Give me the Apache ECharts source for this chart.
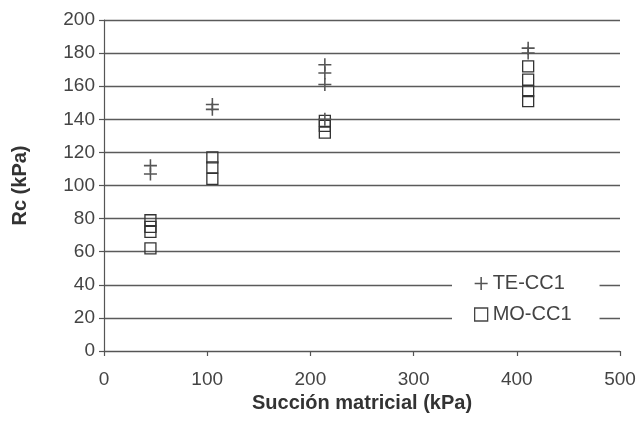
<!DOCTYPE html>
<html><head><meta charset="utf-8">
<script src="https://cdn.jsdelivr.net/npm/echarts@6/dist/echarts.min.js"></script>
<style>html,body{margin:0;padding:0;background:#fff}#c{width:642px;height:436px}</style>
</head><body><div id="c"></div>
<script>
const teX = [45, 45, 105, 105, 214, 214, 214, 214, 411, 411];
const teY = [112, 107, 149, 146, 173, 168, 161, 140, 183, 180];
const moX = [45, 45, 45, 45, 105, 105, 105, 214, 214, 214, 411, 411, 411, 411];
const moY = [79, 75, 72, 62, 117, 111, 104, 139, 136, 132, 172, 164, 157, 151];
const xTicks = [0, 100, 200, 300, 400, 500];
const yTicks = [0, 20, 40, 60, 80, 100, 120, 140, 160, 180, 200];
const seriesNames = ['TE-CC1', 'MO-CC1'];

const plusPath = 'path://M4.4,0H5.6V4.4H10V5.6H5.6V10H4.4V5.6H0V4.4H4.4Z';
const font = 'Liberation Sans, Arial, sans-serif';
const chart = echarts.init(document.getElementById('c'));
chart.setOption({
  animation: false,
  backgroundColor: '#fff',
  grid: {left: 104, right: 22, top: 20, bottom: 85},
  xAxis: {
    type: 'value', min: xTicks[0], max: xTicks[xTicks.length - 1], interval: 100,
    name: 'Succión matricial (kPa)', nameLocation: 'middle', nameGap: 30,
    nameTextStyle: {fontFamily: font, fontSize: 20, fontWeight: 'bold', color: '#333'},
    axisLine: {lineStyle: {color: '#555', width: 1.2}},
    axisTick: {show: true, length: 5, lineStyle: {color: '#555', width: 1.2}},
    axisLabel: {fontFamily: font, fontSize: 19, color: '#444', margin: 19},
    splitLine: {show: false}
  },
  yAxis: {
    type: 'value', min: yTicks[0], max: yTicks[yTicks.length - 1], interval: 20,
    name: 'Rc (kPa)', nameLocation: 'middle', nameGap: 74, nameRotate: 90,
    nameTextStyle: {fontFamily: font, fontSize: 20, fontWeight: 'bold', color: '#333'},
    axisLine: {show: true, lineStyle: {color: '#555', width: 1.2}},
    axisTick: {show: true, length: 5, lineStyle: {color: '#555', width: 1.2}},
    axisLabel: {fontFamily: font, fontSize: 19, color: '#444', margin: 9},
    splitLine: {show: true, lineStyle: {color: '#5a5a5a', width: 1.4}}
  },
  legend: {
    orient: 'vertical', left: 452, top: 265,
    backgroundColor: '#fff',
    padding: [8, 28, 8, 22],
    itemGap: 10, itemWidth: 13, itemHeight: 13,
    textStyle: {fontFamily: font, fontSize: 20, lineHeight: 21, color: '#444'},
    data: [
      {name: seriesNames[0], icon: plusPath},
      {name: seriesNames[1], icon: 'rect', itemStyle: {color: '#fff', borderColor: '#444', borderWidth: 1.3}}
    ]
  },
  series: [
    {
      name: seriesNames[0], type: 'scatter', symbol: plusPath, symbolSize: 13,
      itemStyle: {color: '#555', opacity: 1},
      data: teX.map((x, i) => [x, teY[i]]), z: 3
    },
    {
      name: seriesNames[1], type: 'scatter', symbol: 'rect', symbolSize: 11,
      itemStyle: {color: 'rgba(255,255,255,0)', borderColor: '#333', borderWidth: 1.3, opacity: 1},
      data: moX.map((x, i) => [x, moY[i]]), z: 2
    }
  ]
});
</script></body></html>
